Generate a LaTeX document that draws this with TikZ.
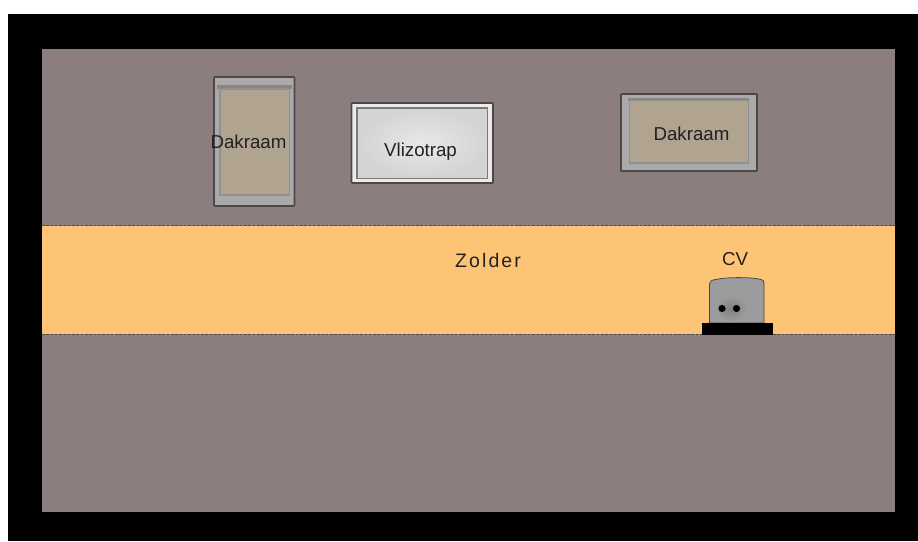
\documentclass[tikz,border=0pt]{standalone}
\usepackage{fontspec}
\setmainfont{Liberation Sans}
\newfontfamily\spaced[LetterSpace=11]{Liberation Sans}
\definecolor{wall}{RGB}{140,126,126}
\definecolor{attic}{RGB}{253,196,118}
\definecolor{glass}{RGB}{176,163,144}
\definecolor{framegrey}{RGB}{170,170,172}
\definecolor{edgegrey}{RGB}{76,72,72}
\definecolor{innergrey}{RGB}{146,144,142}
\definecolor{bandgrey}{RGB}{136,134,132}
\definecolor{boiler}{RGB}{156,156,158}
\definecolor{boilerdark}{RGB}{128,128,130}
\definecolor{ink}{RGB}{35,32,32}
\tikzset{
  x=1pt,y=-1pt,
  lbl/.style={text=ink,inner sep=0pt,font=\fontsize{18.7}{20}\selectfont},
  outerframe/.style={draw=edgegrey,line width=1.6pt,fill=framegrey,rounded corners=0.8pt},
  pane/.style={draw=innergrey,line width=1.5pt,fill=glass},
  seam/.style={draw=edgegrey,line width=1.1pt,dash pattern=on 2.5pt off 1.8pt},
}
\begin{document}
\begin{tikzpicture}
\useasboundingbox (0,0) rectangle (918,541);
\fill[white] (0,0) rectangle (918,541);
\fill[black] (8,14) rectangle (918,541);
\fill[wall] (42,49) rectangle (895,512);
\fill[attic] (42,226) rectangle (895,334);
\draw[seam] (42,225.5) -- (895,225.5);
\draw[seam] (42,334.5) -- (895,334.5);
% left roof window
\draw[outerframe] (214,77) rectangle (294.5,206);
\fill[bandgrey] (217,85) rectangle (291.5,89);
\draw[pane] (220,89) rectangle (289.5,195);
\node[lbl] (dakraamA) at (248.5,142) {Dakraam};
% loft ladder
\draw[edgegrey,line width=1.6pt,fill=white!92!black,rounded corners=0.8pt] (351.5,103) rectangle (493,183);
\shade[inner color=black!9,outer color=black!17] (357.5,108.5) rectangle (487,178);
\draw[innergrey!85!black,line width=1.5pt] (357,108) rectangle (487.5,178.5);
\node[lbl] (vlizotrap) at (420.5,152) {Vlizotrap};
% right roof window
\draw[outerframe] (621,94) rectangle (757,171);
\fill[bandgrey] (628,98) rectangle (749,101);
\draw[pane] (629.5,100.5) rectangle (748.5,163);
\node[lbl] (dakraamB) at (691.5,134) {Dakraam};
% attic label
\node[lbl,font=\spaced\fontsize{19.5}{21}\selectfont] (zolder) at (488,261) {Zolder};
% boiler
\node[lbl] (cv) at (735,259) {CV};
\draw[edgegrey,line width=0.8pt,fill=boiler] (709.5,323) -- (709.5,284) .. controls (710,280) and (714,279.5) .. (716,279.5) .. controls (725,277) and (752,277) .. (761,279.5) .. controls (763,279.5) and (764,281) .. (764,284) -- (764,323) -- cycle;
\shade[inner color=boilerdark,outer color=boiler] (715,296) rectangle (747,321);
\fill[black] (722,308.5) circle (3.6);
\fill[black] (736.5,308.5) circle (3.6);
\fill[black] (702,323) rectangle (773,334.5);
\end{tikzpicture}
\end{document}
